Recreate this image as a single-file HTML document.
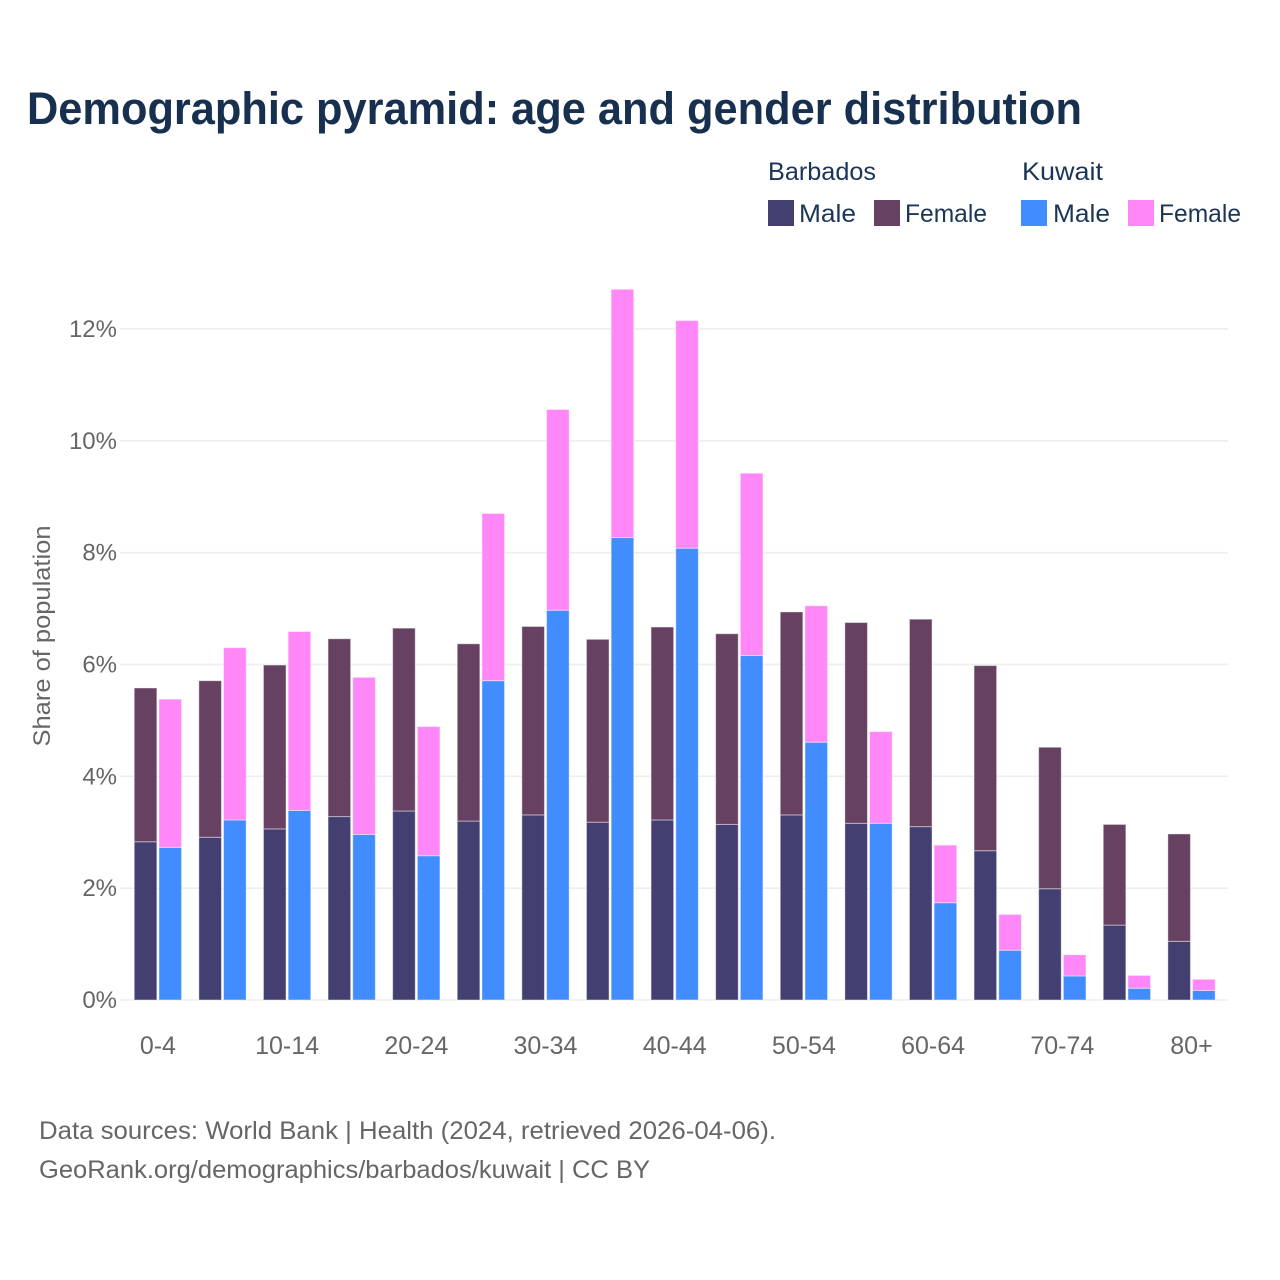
<!DOCTYPE html>
<html lang="en">
<head>
<meta charset="utf-8">
<title>Demographic pyramid: age and gender distribution</title>
<style>
html,body{margin:0;padding:0;background:#fff;}
svg{display:block;}
text{font-family:"Liberation Sans",sans-serif;}
</style>
</head>
<body>
<svg id="chart" width="1280" height="1280" viewBox="0 0 1280 1280" xmlns="http://www.w3.org/2000/svg">
  <rect x="0" y="0" width="1280" height="1280" fill="#ffffff"/>
  <text x="27" y="124" font-size="45" font-weight="700" fill="#17304f" textLength="1055" lengthAdjust="spacingAndGlyphs">Demographic pyramid: age and gender distribution</text>

  <g font-size="25" fill="#1a3557">
    <text x="768" y="180" textLength="108" lengthAdjust="spacingAndGlyphs">Barbados</text>
    <text x="1022" y="180" textLength="81" lengthAdjust="spacingAndGlyphs">Kuwait</text>
    <rect x="768" y="200" width="26" height="26" fill="#433f70"/>
    <text x="799" y="222" textLength="57" lengthAdjust="spacingAndGlyphs">Male</text>
    <rect x="874" y="200" width="26" height="26" fill="#674162"/>
    <text x="905" y="222" textLength="82" lengthAdjust="spacingAndGlyphs">Female</text>
    <rect x="1021" y="200" width="26" height="26" fill="#418cff"/>
    <text x="1053" y="222" textLength="57" lengthAdjust="spacingAndGlyphs">Male</text>
    <rect x="1128" y="200" width="26" height="26" fill="#ff87f8"/>
    <text x="1159" y="222" textLength="82" lengthAdjust="spacingAndGlyphs">Female</text>
  </g>

  <g id="grid"></g>
  <g id="yticks"></g>
  <g id="bars"></g>
  <g id="xticks"></g>

  <text x="0" y="0" transform="translate(50,636) rotate(-90)" text-anchor="middle" font-size="24" fill="#666666" textLength="221" lengthAdjust="spacingAndGlyphs">Share of population</text>

  <text x="39" y="1139" font-size="25" fill="#666666" textLength="737" lengthAdjust="spacingAndGlyphs">Data sources: World Bank | Health (2024, retrieved 2026-04-06).</text>
  <text x="39" y="1178" font-size="25" fill="#666666" textLength="611" lengthAdjust="spacingAndGlyphs">GeoRank.org/demographics/barbados/kuwait | CC BY</text>
</svg>
<script>
const ageGroups = ["0-4","5-9","10-14","15-19","20-24","25-29","30-34","35-39","40-44","45-49","50-54","55-59","60-64","65-69","70-74","75-79","80+"];
const barbadosMale = [2.83,2.91,3.06,3.28,3.38,3.20,3.31,3.18,3.22,3.14,3.31,3.16,3.10,2.67,1.99,1.34,1.05];
const barbadosFemale = [2.75,2.80,2.93,3.18,3.27,3.17,3.37,3.27,3.45,3.41,3.63,3.59,3.71,3.31,2.53,1.80,1.92];
const kuwaitMale = [2.73,3.22,3.39,2.96,2.58,5.71,6.97,8.27,8.08,6.16,4.61,3.16,1.74,0.89,0.43,0.21,0.17];
const kuwaitFemale = [2.65,3.08,3.20,2.81,2.31,2.99,3.59,4.44,4.07,3.26,2.44,1.64,1.03,0.64,0.38,0.23,0.20];
const yTicks = [0,2,4,6,8,10,12];

const NS = "http://www.w3.org/2000/svg";
const plotLeft = 120, plotRight = 1228, baseY = 1000, pxPerUnit = 55.92;
const firstCenter = 157.9, bandStep = 64.6, barW = 22.6, barOffset = 12.35;

function yScale(v){ return baseY - v * pxPerUnit; }
function xScale(i){ return firstCenter + i * bandStep; }

const gridG = document.getElementById("grid");
const yG = document.getElementById("yticks");
const barsG = document.getElementById("bars");
const xG = document.getElementById("xticks");

yTicks.forEach(function(t){
  const line = document.createElementNS(NS, "line");
  
  
  line.setAttribute("x1", plotLeft);
  line.setAttribute("x2", plotRight);
  line.setAttribute("y1", yScale(t));
  line.setAttribute("y2", yScale(t));
  line.setAttribute("stroke", "#eeeeee");
  line.setAttribute("stroke-width", "1.6");
  gridG.appendChild(line);

  const label = document.createElementNS(NS, "text");
  
  
  label.setAttribute("x", 117);
  label.setAttribute("y", yScale(t) + 8);
  label.setAttribute("text-anchor", "end");
  label.setAttribute("font-size", "24");
  label.setAttribute("fill", "#666666");
  label.textContent = t + "%";
  yG.appendChild(label);
});

function addBar(cx, bottom, top, fill, name){
  const r = document.createElementNS(NS, "rect");
  
  
  r.setAttribute("x", cx - barW / 2);
  r.setAttribute("width", barW);
  r.setAttribute("y", yScale(top));
  r.setAttribute("height", yScale(bottom) - yScale(top));
  r.setAttribute("fill", fill);
  r.setAttribute("stroke", "#ffffff");
  r.setAttribute("stroke-opacity", "0.45");
  r.setAttribute("stroke-width", "1");
  barsG.appendChild(r);
}

ageGroups.forEach(function(age, i){
  const c = xScale(i);
  addBar(c - barOffset, 0, barbadosMale[i], "#433f70", "bar-barbados-male");
  addBar(c - barOffset, barbadosMale[i], barbadosMale[i] + barbadosFemale[i], "#674162", "bar-barbados-female");
  addBar(c + barOffset, 0, kuwaitMale[i], "#418cff", "bar-kuwait-male");
  addBar(c + barOffset, kuwaitMale[i], kuwaitMale[i] + kuwaitFemale[i], "#ff87f8", "bar-kuwait-female");

  if (i % 2 === 0) {
    const label = document.createElementNS(NS, "text");
    
    
    label.setAttribute("x", c);
    label.setAttribute("y", 1054);
    label.setAttribute("text-anchor", "middle");
    label.setAttribute("font-size", "25");
    label.setAttribute("fill", "#666666");
    label.textContent = age;
    xG.appendChild(label);
  }
});
</script>
</body>
</html>
